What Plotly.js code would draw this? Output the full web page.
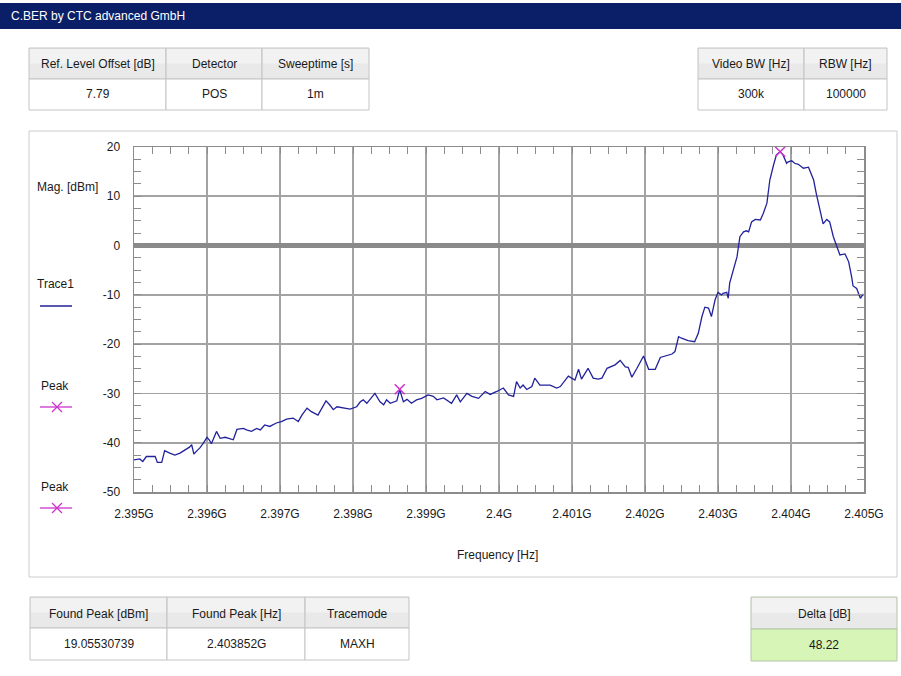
<!DOCTYPE html>
<html>
<head>
<meta charset="utf-8">
<script src="https://cdn.plot.ly/plotly-3.0.1.min.js"></script>
<style>html,body{margin:0;padding:0;background:#fff;}#chart{width:901px;height:676px;}</style>
</head>
<body>
<div id="chart"></div>
<script>
// ---- data ----
const freqGHz = [
2.39500,2.39508,2.39512,2.39517,2.39529,2.39532,2.39538,2.39542,2.39549,2.39556,
2.39563,2.39570,2.39576,2.39579,2.39582,2.39587,2.39590,2.39595,2.39600,2.39603,
2.39606,2.39613,2.39618,2.39625,2.39636,2.39641,2.39650,2.39654,2.39661,2.39668,
2.39673,2.39679,2.39686,2.39695,2.39702,2.39709,2.39718,2.39725,2.39730,2.39737,
2.39743,2.39752,2.39757,2.39763,2.39768,2.39773,2.39778,2.39787,2.39796,2.39805,
2.39810,2.39814,2.39819,2.39830,2.39837,2.39842,2.39846,2.39851,2.39860,2.39864,
2.39869,2.39874,2.39880,2.39887,2.39894,2.39903,2.39910,2.39915,2.39924,2.39935,
2.39942,2.39947,2.39956,2.39963,2.39972,2.39981,2.39988,2.39997,2.40006,2.40013,
2.40020,2.40024,2.40029,2.40033,2.40038,2.40045,2.40049,2.40056,2.40070,2.40079,
2.40084,2.40095,2.40100,2.40104,2.40109,2.40113,2.40122,2.40129,2.40136,2.40141,
2.40148,2.40154,2.40159,2.40166,2.40173,2.40177,2.40182,2.40189,2.40198,2.40205,
2.40214,2.40221,2.40227,2.40237,2.40241,2.40246,2.40250,2.40259,2.40268,2.40273,
2.40278,2.40282,2.40287,2.40291,2.40296,2.40300,2.40305,2.40307,2.40312,2.40314,
2.40316,2.40321,2.40326,2.40330,2.40335,2.40339,2.40342,2.40346,2.40351,2.40358,
2.40362,2.40367,2.40371,2.40376,2.40380,2.403852,2.40389,2.40394,2.40396,2.40401,
2.40405,2.40410,2.40417,2.40424,2.40431,2.40435,2.40440,2.40444,2.40449,2.40453,
2.40458,2.40463,2.40467,2.40474,2.40479,2.40483,2.40485,2.40490,2.40495,2.40499
];
const magDbm = [
-43.5,-43.3,-43.8,-42.8,-42.8,-44.0,-44.0,-41.6,-42.1,-42.5,
-42.1,-41.5,-40.9,-40.4,-42.3,-41.5,-41.1,-40.1,-38.9,-39.4,
-40.2,-37.7,-39.1,-38.9,-39.4,-37.3,-37.1,-37.4,-37.7,-37.1,
-37.4,-36.4,-36.7,-36.0,-35.7,-35.2,-35.0,-35.7,-34.4,-33.0,
-33.7,-34.4,-33.0,-31.5,-32.3,-33.3,-32.7,-32.9,-33.2,-32.7,
-31.7,-31.3,-32.0,-30.0,-31.7,-32.3,-31.3,-32.0,-31.5,-29.2,
-31.7,-31.2,-32.0,-31.3,-31.0,-30.3,-30.6,-31.3,-30.9,-32.0,
-30.3,-31.7,-30.0,-30.6,-31.0,-29.6,-30.2,-29.6,-28.9,-30.3,
-30.6,-27.6,-28.9,-28.3,-29.2,-28.6,-26.9,-28.3,-28.3,-28.9,
-28.6,-26.5,-26.9,-27.3,-25.1,-27.1,-24.9,-26.9,-27.1,-26.9,
-24.9,-24.6,-24.2,-23.3,-24.6,-24.7,-26.7,-24.9,-22.4,-25.1,
-25.1,-22.7,-22.4,-22.0,-21.5,-18.5,-18.8,-19.3,-19.5,-17.8,
-14.4,-12.5,-12.7,-14.4,-11.0,-9.5,-10.0,-9.7,-9.5,-10.7,
-7.6,-4.9,-2.3,1.8,2.8,3.0,2.8,4.8,5.3,5.2,
6.5,8.6,13.3,16.3,18.4,19.06,18.4,16.7,17.0,17.2,
16.7,16.5,15.7,15.9,13.3,10.3,7.2,4.4,5.3,4.8,
1.8,-0.2,-1.9,-1.7,-3.3,-6.3,-8.2,-8.7,-10.7,-9.8
];
const peakFreqGHz = [2.403852, 2.39864];
const peakMagDbm = [19.0553, -29.17];

const xTickVals = [2.395,2.396,2.397,2.398,2.399,2.400,2.401,2.402,2.403,2.404,2.405];
const xTickLabels = ['2.395G','2.396G','2.397G','2.398G','2.399G','2.4G','2.401G','2.402G','2.403G','2.404G','2.405G'];
const yTickVals = [-50,-40,-30,-20,-10,0,10,20];
const yTickLabels = ['-50','-40','-30','-20','-10','0','10','20'];

const topLeftHeaders = ['Ref. Level Offset [dB]','Detector','Sweeptime [s]'];
const topLeftValues = ['7.79','POS','1m'];
const topRightHeaders = ['Video BW [Hz]','RBW [Hz]'];
const topRightValues = ['300k','100000'];
const bottomHeaders = ['Found Peak [dBm]','Found Peak [Hz]','Tracemode'];
const bottomValues = ['19.05530739','2.403852G','MAXH'];
const deltaHeader = ['Delta [dB]'];
const deltaValue = ['48.22'];

// ---- layout helpers (pixel -> paper) ----
const W = 901, H = 676;
const FONT = 'Liberation Sans, Arial, sans-serif';
const px = v => v / W;
const py = v => 1 - v / H;
const shapes = [];
const annotations = [];
function rect(x0, y0, x1, y1, fill, line, lw, layer) {
  shapes.push({type:'rect', xref:'paper', yref:'paper', x0:px(x0), x1:px(x1), y0:py(y1), y1:py(y0),
    fillcolor: fill, line:{color: line || 'rgba(0,0,0,0)', width: lw === undefined ? 1 : lw}, layer: layer || 'above'});
}
function seg(x0, y0, x1, y1, color, w) {
  shapes.push({type:'line', xref:'paper', yref:'paper', x0:px(x0), x1:px(x1), y0:py(y0), y1:py(y1),
    line:{color: color, width: w}, layer:'above'});
}
function text(x, y, t, opts) {
  opts = opts || {};
  annotations.push({xref:'paper', yref:'paper', x:px(x), y:py(y), text:t, showarrow:false,
    xanchor: opts.xanchor || 'center', yanchor:'middle',
    font:{family: FONT, size: opts.size || 12, color: opts.color || '#1a1a1a'}});
}
function table(cols, yTop, yMid, yBot, headers, values, valueFill, borderColor) {
  for (let i = 0; i < headers.length; i++) {
    const x0 = cols[i], x1 = cols[i + 1];
    rect(x0, yTop, x1, yMid, '#e9e9e9', borderColor, 1);
    rect(x0 + 1, yTop + 1, x1 - 1, yTop + (yMid - yTop) / 2, '#f2f2f2', null, 0);
    rect(x0, yMid, x1, yBot, valueFill, borderColor, 1);
    text((x0 + x1) / 2, (yTop + yMid) / 2 + 1, headers[i]);
    text((x0 + x1) / 2, (yMid + yBot) / 2, values[i]);
  }
}

// title bar
rect(0, 3, 901, 29, '#0b1f68', null, 0);
text(9, 16, 'C.BER by CTC advanced GmbH', {xanchor:'left', color:'#ffffff'});

// tables
table([29, 166, 262, 369], 48, 79, 110, topLeftHeaders, topLeftValues, '#ffffff', '#c4c4c4');
table([698, 804, 887], 48, 79, 110, topRightHeaders, topRightValues, '#ffffff', '#c4c4c4');
table([30, 167, 305, 409], 597, 628, 660, bottomHeaders, bottomValues, '#ffffff', '#c4c4c4');
table([751, 897], 597, 629, 661, deltaHeader, deltaValue, '#d7f5b6', '#b4c6a8');

// plot panel frame
rect(29, 131, 897, 577, 'rgba(0,0,0,0)', '#cccccc', 1, 'below');

// side labels / legend
text(67, 187, 'Mag. [dBm]');
text(55, 284, 'Trace1');
seg(40, 306, 72, 306, '#22229c', 1.5);
text(55, 386, 'Peak');
text(55, 487, 'Peak');
[407, 508].forEach(yy => {
  seg(40, yy, 72, yy, '#cc33cc', 1.3);
  seg(52, yy - 5, 62, yy + 5, '#cc33cc', 1.3);
  seg(52, yy + 5, 62, yy - 5, '#cc33cc', 1.3);
});
text(497, 555, 'Frequency [Hz]');

const traces = [
  {x: freqGHz, y: magDbm, type:'scatter', mode:'lines', line:{color:'#22229c', width:1.3}, name:'Trace1'},
  {x: peakFreqGHz, y: peakMagDbm, type:'scatter', mode:'markers', cliponaxis:false,
   marker:{symbol:'x-thin-open', size:10, color:'#cc33cc', line:{color:'#cc33cc', width:1.5}}, name:'Peak'}
];

const axisCommon = {
  showline:true, linecolor:'#8c8c8c', linewidth:1.5, mirror:'allticks',
  showgrid:true, gridcolor:'#a3a3a3', gridwidth:1.6,
  ticks:'inside', ticklen:7, tickcolor:'#8c8c8c',
  tickfont:{family:FONT, size:12, color:'#1a1a1a'},
  fixedrange:true
};
const layout = {
  width: W, height: H,
  margin:{l:0, r:0, t:0, b:0},
  paper_bgcolor:'#ffffff', plot_bgcolor:'rgba(0,0,0,0)',
  showlegend:false,
  xaxis: Object.assign({}, axisCommon, {
    domain:[px(134), px(864)], range:[2.395, 2.405],
    tickmode:'array', tickvals:xTickVals, ticktext:xTickLabels,
    ticklabelstandoff: 10, zeroline:false,
    minor:{tick0:2.395, dtick:0.00025, ticks:'inside', ticklen:7, tickcolor:'#8c8c8c', showgrid:false}
  }),
  yaxis: Object.assign({}, axisCommon, {
    domain:[py(492), py(147)], range:[-50, 20],
    tickmode:'array', tickvals:yTickVals, ticktext:yTickLabels,
    ticklabelstandoff: 10,
    zeroline:true, zerolinecolor:'#8a8a8a', zerolinewidth:5,
    minor:{tick0:-50, dtick:2.5, ticks:'inside', ticklen:7, tickcolor:'#8c8c8c', showgrid:false}
  }),
  shapes: shapes,
  annotations: annotations
};
Plotly.newPlot('chart', traces, layout, {staticPlot:true, displayModeBar:false});
</script>
</body>
</html>
